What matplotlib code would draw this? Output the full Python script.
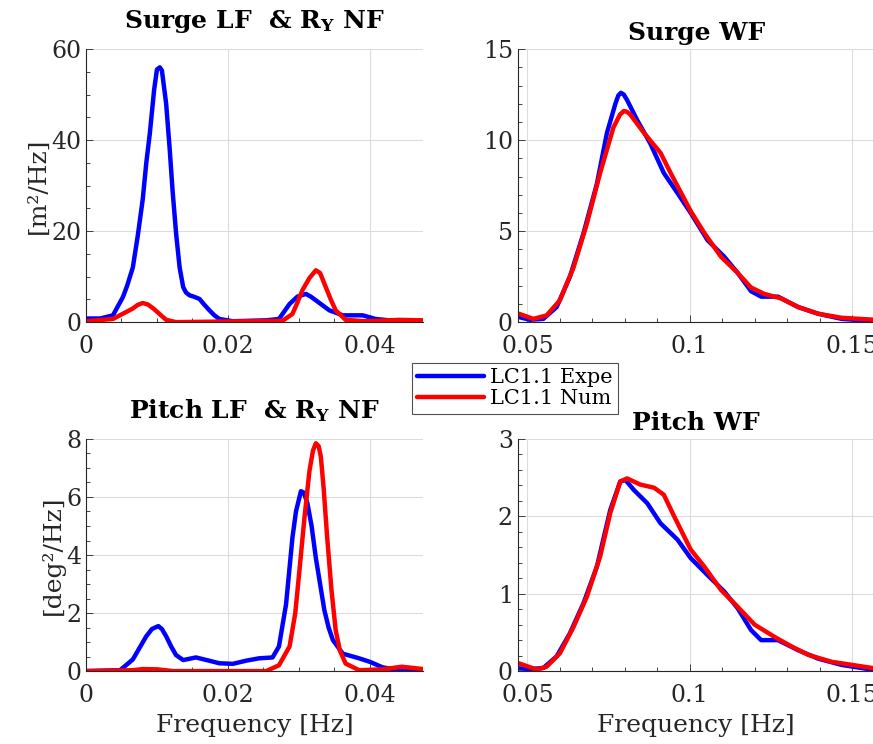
import matplotlib
matplotlib.use("Agg")
import matplotlib.pyplot as plt
from matplotlib.ticker import AutoMinorLocator, MultipleLocator

plt.rcParams["font.family"] = ["DejaVu Serif"]
plt.rcParams["mathtext.fontset"] = "dejavuserif"

# Surge LF & R_Y NF
f_surge_lf_exp = [0.0, 0.002, 0.0038, 0.0052, 0.0058, 0.0066, 0.0073, 0.0080, 0.0085, 0.0090,
                  0.0096, 0.0100, 0.0104, 0.0107, 0.0113, 0.0118, 0.0122, 0.0127, 0.0132,
                  0.0137, 0.0141, 0.0146, 0.0152, 0.0160, 0.0167, 0.0174, 0.0181, 0.0188,
                  0.0207, 0.0254, 0.0272, 0.0287, 0.0298, 0.0310, 0.0317, 0.0324, 0.0343,
                  0.0362, 0.0390, 0.0408, 0.0441, 0.0475]
s_surge_lf_exp = [0.8, 0.8, 1.5, 5.5, 8.0, 12.0, 19.0, 27.0, 35.0, 41.5,
                  51.0, 55.5, 56.0, 55.3, 48.0, 38.0, 29.0, 19.5, 12.0,
                  7.7, 6.5, 5.9, 5.6, 5.1, 3.8, 2.6, 1.5, 0.7,
                  0.2, 0.4, 0.7, 4.0, 5.6, 6.2, 5.6, 4.8, 2.6,
                  1.5, 1.5, 0.7, 0.2, 0.1]
f_surge_lf_num = [0.0, 0.0038, 0.0066, 0.0073, 0.0080, 0.0087, 0.0095, 0.0113, 0.0127,
                  0.0277, 0.0291, 0.0298, 0.0305, 0.0315, 0.0324, 0.0330, 0.0338, 0.0345,
                  0.0352, 0.0366, 0.0394, 0.0441, 0.0475]
s_surge_lf_num = [0.2, 0.7, 3.0, 3.8, 4.2, 3.9, 3.0, 0.5, 0.0,
                  0.3, 1.8, 4.3, 7.0, 9.7, 11.4, 10.8, 7.7, 5.0,
                  2.6, 0.5, 0.2, 0.5, 0.4]

# Pitch LF & R_Y NF
f_pitch_lf_exp = [0.0, 0.0048, 0.0066, 0.0085, 0.0093, 0.0102, 0.0107, 0.0113, 0.0120,
                  0.0127, 0.0137, 0.0155, 0.0170, 0.0188, 0.0207, 0.0226, 0.0244, 0.0263,
                  0.0272, 0.0282, 0.0291, 0.0296, 0.0303, 0.0307, 0.0312, 0.0318, 0.0324,
                  0.0330, 0.0336, 0.0342, 0.0348, 0.0362, 0.0385, 0.0400, 0.0418, 0.0441, 0.0475]
s_pitch_lf_exp = [0.0, 0.03, 0.4, 1.2, 1.45, 1.55, 1.45, 1.2, 0.85,
                  0.55, 0.38, 0.47, 0.38, 0.27, 0.25, 0.36, 0.44, 0.47,
                  0.85, 2.3, 4.6, 5.5, 6.2, 6.15, 5.8, 5.0, 3.9,
                  3.0, 2.1, 1.5, 1.07, 0.6, 0.44, 0.32, 0.13, 0.03, 0.0]
f_pitch_lf_num = [0.0, 0.0066, 0.0080, 0.0100, 0.0123, 0.0254, 0.0272, 0.0287, 0.0295,
                  0.0301, 0.0308, 0.0315, 0.0320, 0.0324, 0.0328, 0.0331, 0.0335, 0.0340,
                  0.0346, 0.0352, 0.0358, 0.0366, 0.0385, 0.0418, 0.0445, 0.0475]
s_pitch_lf_num = [0.0, 0.03, 0.07, 0.06, 0.0, 0.0, 0.2, 0.85, 2.0,
                  3.5, 5.3, 6.9, 7.6, 7.85, 7.75, 7.4, 6.3, 4.6,
                  2.8, 1.4, 0.7, 0.26, 0.03, 0.06, 0.15, 0.07]

# Surge WF
f_surge_wf_exp = [0.0474, 0.0507, 0.0549, 0.0590, 0.0631, 0.0673, 0.0714, 0.0745, 0.0771,
                  0.0780, 0.0788, 0.0797, 0.0807, 0.0838, 0.0879, 0.0920, 0.0962, 0.1003,
                  0.1055, 0.1106, 0.1148, 0.1189, 0.1220, 0.1272, 0.1334, 0.1396, 0.1468, 0.1570]
s_surge_wf_exp = [0.28, 0.13, 0.18, 0.83, 2.5, 4.9, 7.6, 10.4, 12.0,
                  12.45, 12.6, 12.5, 12.2, 11.1, 9.8, 8.2, 7.1, 6.0,
                  4.5, 3.6, 2.7, 1.7, 1.4, 1.4, 0.83, 0.46, 0.18, 0.05]
f_surge_wf_num = [0.0474, 0.0518, 0.0559, 0.0600, 0.0642, 0.0683, 0.0724, 0.0765, 0.0785,
                  0.0797, 0.0807, 0.0817, 0.0859, 0.0910, 0.0941, 0.1003, 0.1045, 0.1096,
                  0.1148, 0.1189, 0.1230, 0.1282, 0.1334, 0.1396, 0.1468, 0.1570]
s_surge_wf_num = [0.46, 0.18, 0.37, 1.2, 3.0, 5.4, 8.2, 10.7, 11.4,
                  11.6, 11.55, 11.4, 10.4, 9.3, 8.2, 6.1, 4.9, 3.6,
                  2.7, 1.9, 1.55, 1.3, 0.83, 0.46, 0.24, 0.13]

# Pitch WF
f_pitch_wf_exp = [0.0474, 0.0507, 0.0549, 0.0590, 0.0631, 0.0673, 0.0714, 0.0755, 0.0786,
                  0.0802, 0.0828, 0.0869, 0.0910, 0.0962, 0.1003, 0.1055, 0.1106, 0.1148,
                  0.1189, 0.1220, 0.1272, 0.1334, 0.1396, 0.1468, 0.1570]
s_pitch_wf_exp = [0.035, 0.026, 0.04, 0.19, 0.49, 0.88, 1.35, 2.08, 2.45,
                  2.47, 2.34, 2.17, 1.91, 1.70, 1.46, 1.24, 1.03, 0.81,
                  0.53, 0.40, 0.40, 0.27, 0.16, 0.08, 0.013]
f_pitch_wf_num = [0.0474, 0.0528, 0.0559, 0.0600, 0.0642, 0.0683, 0.0724, 0.0755, 0.0786,
                  0.0807, 0.0848, 0.0890, 0.0920, 0.0952, 0.1003, 0.1045, 0.1096, 0.1148,
                  0.1200, 0.1262, 0.1313, 0.1365, 0.1437, 0.1500, 0.1570]
s_pitch_wf_num = [0.10, 0.02, 0.056, 0.23, 0.57, 0.96, 1.48, 2.04, 2.45,
                  2.49, 2.41, 2.37, 2.28, 2.00, 1.57, 1.35, 1.05, 0.83,
                  0.60, 0.44, 0.32, 0.21, 0.12, 0.08, 0.035]

labels = ["LC1.1 Expe", "LC1.1 Num"]
dark = "#262626"

fig = plt.figure(figsize=(8.73, 7.44), dpi=100)
ax_tl = fig.add_axes([0.0985, 0.567, 0.386, 0.367])
ax_tr = fig.add_axes([0.593, 0.567, 0.409, 0.367])
ax_bl = fig.add_axes([0.0985, 0.098, 0.386, 0.312])
ax_br = fig.add_axes([0.593, 0.098, 0.409, 0.312])

panels = [
    (ax_tl, f_surge_lf_exp, s_surge_lf_exp, f_surge_lf_num, s_surge_lf_num,
     r"Surge LF  & R$_{\mathbf{Y}}$ NF", 15, (0, 0.0475), 0.02, (0, 60), 20, "[m²/Hz]", False),
    (ax_tr, f_surge_wf_exp, s_surge_wf_exp, f_surge_wf_num, s_surge_wf_num,
     "Surge WF", 6.5, (0.047, 0.157), 0.05, (0, 15), 5, None, False),
    (ax_bl, f_pitch_lf_exp, s_pitch_lf_exp, f_pitch_lf_num, s_pitch_lf_num,
     r"Pitch LF  & R$_{\mathbf{Y}}$ NF", 15, (0, 0.0475), 0.02, (0, 8), 2, "[deg²/Hz]", True),
    (ax_br, f_pitch_wf_exp, s_pitch_wf_exp, f_pitch_wf_num, s_pitch_wf_num,
     "Pitch WF", 6.5, (0.047, 0.157), 0.05, (0, 3), 1, None, True),
]

for ax, fe, se, fn, sn, title, tpad, xlim, xstep, ylim, ystep, ylab, xlab in panels:
    ax.plot(fe, se, color="#0000ff", lw=3.2, label=labels[0], solid_capstyle="round")
    ax.plot(fn, sn, color="#ff0000", lw=3.2, label=labels[1], solid_capstyle="round")
    ax.set_xlim(*xlim)
    ax.set_ylim(*ylim)
    ax.xaxis.set_major_locator(MultipleLocator(xstep))
    ax.yaxis.set_major_locator(MultipleLocator(ystep))
    ax.xaxis.set_minor_locator(AutoMinorLocator())
    ax.yaxis.set_minor_locator(AutoMinorLocator())
    ax.xaxis.set_major_formatter(plt.FuncFormatter(lambda v, p: f"{v:g}"))
    ax.grid(True, which="major", color="#dcdcdc", lw=0.8)
    ax.set_axisbelow(True)
    for side in ("top", "right"):
        ax.spines[side].set_visible(False)
    for side in ("left", "bottom"):
        ax.spines[side].set_color(dark)
        ax.spines[side].set_linewidth(0.8)
    ax.tick_params(which="both", direction="in", colors=dark, labelsize=17, width=0.6)
    ax.tick_params(which="major", length=5)
    ax.tick_params(which="minor", length=3)
    ax.tick_params(axis="x", which="major", pad=9)
    ax.set_title(title, fontsize=18, fontweight="bold", pad=tpad)
    if ylab:
        ax.set_ylabel(ylab, fontsize=18, color=dark, labelpad=1)
    if xlab:
        ax.set_xlabel("Frequency [Hz]", fontsize=18, color=dark, labelpad=5)

handles, hl = ax_tl.get_legend_handles_labels()
leg = fig.legend(handles, hl, loc="upper left", bbox_to_anchor=(0.472, 0.512),
                 fontsize=15, frameon=True, fancybox=False, handlelength=3.2,
                 handletextpad=0.3, borderpad=0.25, labelspacing=0.1, borderaxespad=0)
leg.get_frame().set_edgecolor(dark)
leg.get_frame().set_linewidth(0.8)

fig.savefig("out.png", dpi=100)
